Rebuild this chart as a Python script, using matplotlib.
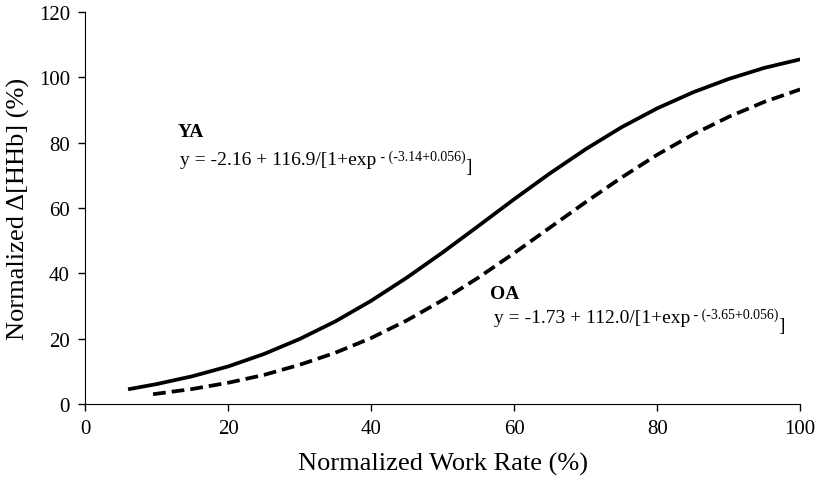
import matplotlib.pyplot as plt

plt.rcParams['font.family'] = ['Liberation Serif', 'DejaVu Serif']

# values
work_ya = [6, 10, 15, 20, 25, 30, 35, 40, 45, 50, 55, 60, 65, 70, 75, 80, 85, 90, 95, 100]
hhb_ya = [4.5, 6.1, 8.5, 11.5, 15.3, 19.9, 25.3, 31.6, 38.7, 46.4, 54.5, 62.7, 70.6,
          78.0, 84.7, 90.5, 95.4, 99.5, 102.9, 105.5]

work_oa = [9.5, 15, 20, 25, 30, 35, 40, 45, 50, 55, 60, 65, 70, 75, 80, 85, 90, 95, 100]
hhb_oa = [3.0, 4.6, 6.5, 8.9, 12.0, 15.7, 20.2, 25.6, 31.8, 38.7, 46.2, 54.0, 61.8,
          69.3, 76.3, 82.5, 87.9, 92.5, 96.3]

xticks = [0, 20, 40, 60, 80, 100]
yticks = [0, 20, 40, 60, 80, 100, 120]

fig = plt.figure(figsize=(8.19, 4.81), dpi=100)
ax = fig.add_axes([0.104, 0.158, 0.873, 0.815])

ax.plot(work_ya, hhb_ya, color='black', lw=2.7, solid_capstyle='butt')
ax.plot(work_oa, hhb_oa, color='black', lw=2.7, linestyle=(0, (3.4, 1.6)))

ax.set_xlim(0, 100)
ax.set_ylim(0, 120)
ax.set_xticks(xticks)
ax.set_yticks(yticks)
ax.spines['top'].set_visible(False)
ax.spines['right'].set_visible(False)
ax.tick_params(direction='out', length=5, width=1, labelsize=15, pad=6)
ax.set_xlabel('Normalized Work Rate (%)', fontsize=19, labelpad=10)
ax.set_ylabel('Normalized \u0394[HHb] (%)', fontsize=19, labelpad=6)

# equation labels: main text, raised exponent, closing bracket
ax.text(13, 82, 'YA', fontsize=14, fontweight='bold')
t1 = ax.text(13.3, 73.5, 'y = -2.16 + 116.9/[1+exp', fontsize=14)
t2 = ax.annotate(' - (-3.14+0.056)', xy=(1, 0), xycoords=t1, xytext=(0, 6),
                 textcoords='offset points', fontsize=10)
ax.annotate(']', xy=(1, 0), xycoords=t2, xytext=(0, -6),
            textcoords='offset points', fontsize=14)

ax.text(56.6, 32.5, 'OA', fontsize=14, fontweight='bold')
t3 = ax.text(57.2, 25, 'y = -1.73 + 112.0/[1+exp', fontsize=14)
t4 = ax.annotate(' - (-3.65+0.056)', xy=(1, 0), xycoords=t3, xytext=(0, 6),
                 textcoords='offset points', fontsize=10)
ax.annotate(']', xy=(1, 0), xycoords=t4, xytext=(0, -6),
            textcoords='offset points', fontsize=14)

fig.savefig('out.png', dpi=100)
